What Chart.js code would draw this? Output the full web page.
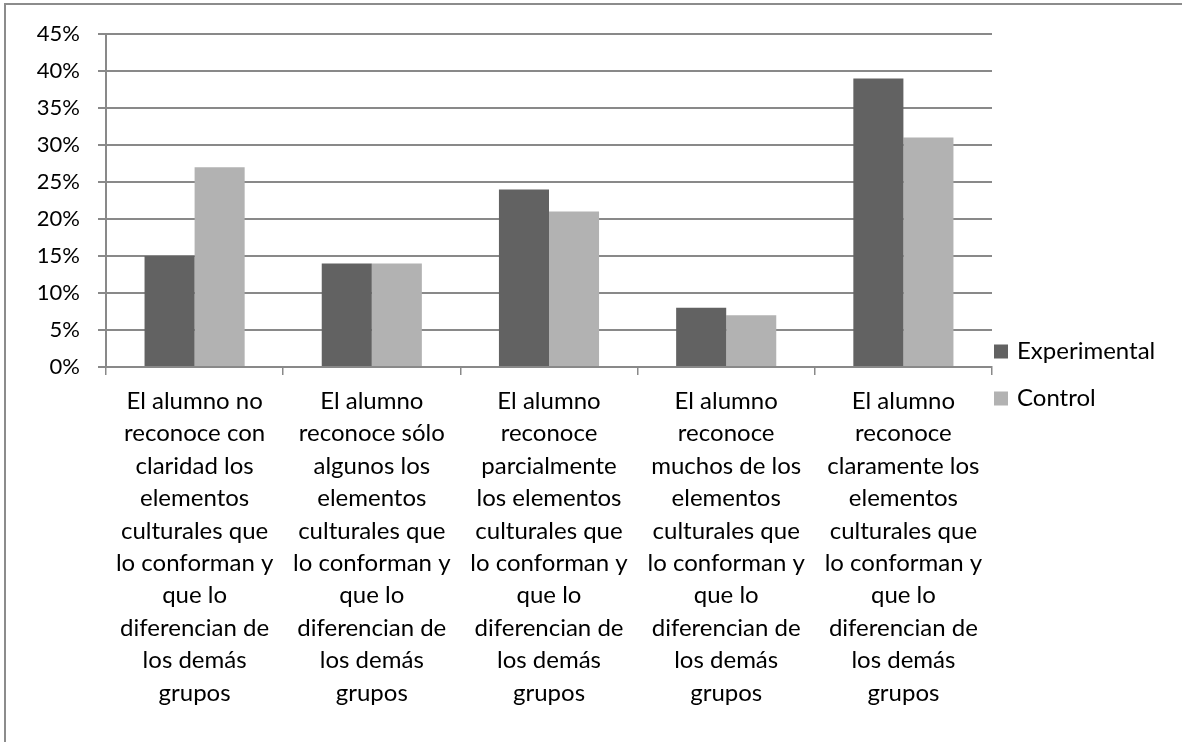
<!DOCTYPE html>
<html>
<head>
<meta charset="utf-8">
<script src="https://cdn.jsdelivr.net/npm/chart.js@4/dist/chart.umd.min.js"></script>
<style>
  html, body { margin: 0; padding: 0; background: #fff; overflow: hidden; }
  #frame { position: absolute; left: 4px; top: 3px; width: 1300px; height: 900px;
           border-left: 2px solid #8c8c8c; border-top: 2px solid #8c8c8c; }
  #wrap { position: absolute; left: 0; top: 0; width: 1182px; height: 742px; }
</style>
</head>
<body>
<div id="frame"></div>
<div id="wrap"><canvas id="myChart" width="1182" height="742"></canvas></div>
<script>
const categories = [
  ['El alumno no', 'reconoce con', 'claridad los', 'elementos', 'culturales que', 'lo conforman y', 'que lo', 'diferencian de', 'los demás', 'grupos'],
  ['El alumno', 'reconoce sólo', 'algunos los', 'elementos', 'culturales que', 'lo conforman y', 'que lo', 'diferencian de', 'los demás', 'grupos'],
  ['El alumno', 'reconoce', 'parcialmente', 'los elementos', 'culturales que', 'lo conforman y', 'que lo', 'diferencian de', 'los demás', 'grupos'],
  ['El alumno', 'reconoce', 'muchos de los', 'elementos', 'culturales que', 'lo conforman y', 'que lo', 'diferencian de', 'los demás', 'grupos'],
  ['El alumno', 'reconoce', 'claramente los', 'elementos', 'culturales que', 'lo conforman y', 'que lo', 'diferencian de', 'los demás', 'grupos']
];
const experimental = [15, 14, 24, 8, 39];
const control = [27, 14, 21, 7, 31];
const yMax = 45;
const yStep = 5;

const gridColor = '#898989';
const fontFamily = 'Lato, "Open Sans", sans-serif';

// legend drawn at the right of the plot, like the original spreadsheet chart
const sideLegend = {
    id: 'sideLegend',
    afterDraw(chart) {
        const c = chart.ctx;
        const area = chart.chartArea;
        const sets = chart.data.datasets;
        const x = area.right + 2;
        const mid = chart.height / 2 + 4;
        const step = 47;
        c.save();
        c.font = '24px ' + fontFamily;
        c.textBaseline = 'middle';
        c.textAlign = 'left';
        sets.forEach((ds, i) => {
            const y = mid + (i - (sets.length - 1) / 2) * step;
            c.fillStyle = ds.backgroundColor;
            c.fillRect(x, y - 7, 14, 14);
            c.fillStyle = '#000';
            c.fillText(ds.label, x + 23, y);
        });
        c.restore();
    }
};

const ctx = document.getElementById('myChart').getContext('2d');

const myChart = new Chart(ctx, {
    type: 'bar',
    data: {
        labels: categories,
        datasets: [{
            label: 'Experimental',
            data: experimental,
            backgroundColor: '#626262',
            categoryPercentage: 0.565,
            barPercentage: 1
        }, {
            label: 'Control',
            data: control,
            backgroundColor: '#b2b2b2',
            categoryPercentage: 0.565,
            barPercentage: 1
        }]
    },
    plugins: [sideLegend],
    options: {
        responsive: false,
        animation: false,
        layout: {
            padding: { top: 34, right: 190, left: 0, bottom: 0 }
        },
        plugins: {
            tooltip: { enabled: false },
            legend: { display: false }
        },
        scales: {
            x: {
                grid: {
                    offset: true,
                    drawOnChartArea: false,
                    drawTicks: true,
                    tickLength: 8,
                    color: gridColor,
                    lineWidth: 1.5
                },
                border: { color: gridColor, width: 2 },
                ticks: {
                    color: '#000',
                    font: { family: fontFamily, size: 24, lineHeight: 1.35 },
                    maxRotation: 0,
                    autoSkip: false,
                    padding: 10
                },
                afterFit: function (scale) { scale.height = 375; }
            },
            y: {
                min: 0,
                max: yMax,
                grid: {
                    color: gridColor,
                    lineWidth: 2,
                    tickLength: 8
                },
                border: { color: gridColor, width: 2 },
                ticks: {
                    stepSize: yStep,
                    color: '#000',
                    font: { family: fontFamily, size: 22 },
                    padding: 18,
                    callback: function (v) { return v + '%'; }
                },
                afterFit: function (scale) { scale.width = 106; }
            }
        }
    }
});
</script>
</body>
</html>
